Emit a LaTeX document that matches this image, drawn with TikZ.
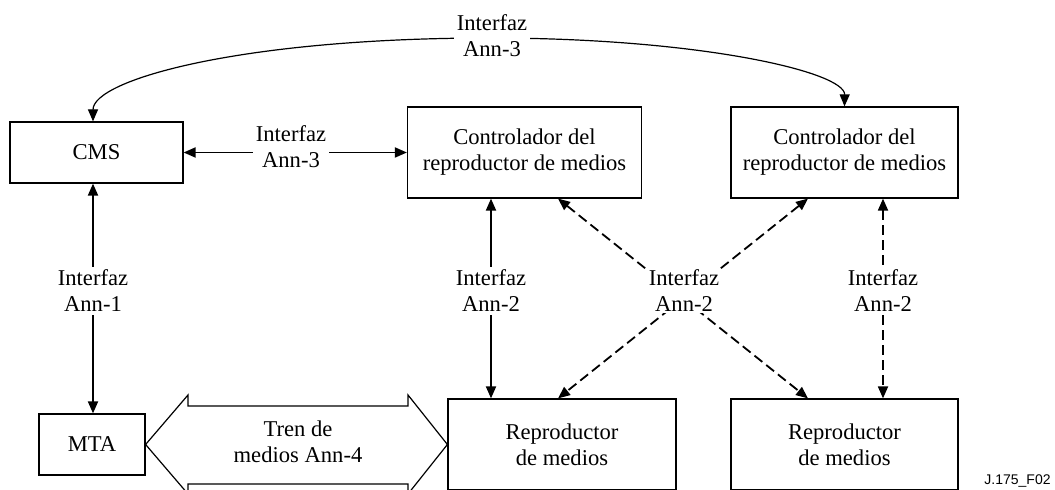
\documentclass[tikz,border=0pt]{standalone}
\usepackage{fontspec}
\setmainfont{Liberation Serif}
\newfontfamily\figsans{Liberation Sans}
\usetikzlibrary{arrows.meta}
\begin{document}
\begin{tikzpicture}[x=0.5pt,y=-0.5pt,
  txt/.style={font=\fontsize{11.3}{13}\selectfont},
  box/.style={draw,line width=0.6pt,align=center,inner sep=0pt,txt},
  lbl/.style={fill=white,align=center,inner sep=1.5pt,txt},
  tip/.style={Triangle[length=6pt,width=5pt]},
  conn/.style={line width=0.9pt,{Triangle[length=6pt,width=5pt]}-{Triangle[length=6pt,width=5pt]}},
  dconn/.style={conn,dash pattern=on 5pt off 2.5pt},
  curve/.style={line width=0.6pt,{Triangle[length=6pt,width=5pt]}-{Triangle[length=6pt,width=5pt]}},
  bigarrow/.style={draw,line width=0.6pt,fill=white},
]
\useasboundingbox (0,0) rectangle (1055,490);
\clip (0,0) rectangle (1055,490);

% boxes
\node[box,minimum width=86.5pt,minimum height=30.5pt] (cms) at (96.5,152.5) {CMS};
\node[box,minimum width=117pt,minimum height=45.5pt] (ctrl1) at (524.5,152.5) {Controlador del\\reproductor de medios};
\node[box,minimum width=113.5pt,minimum height=45.5pt] (ctrl2) at (844.5,152.5) {Controlador del\\reproductor de medios};
\node[box,minimum width=53pt,minimum height=30.5pt] (mta) at (92,444.5) {MTA};
\node[box,minimum width=114pt,minimum height=45.5pt] (repro1) at (562,444.5) {Reproductor\\de medios};
\node[box,minimum width=113.5pt,minimum height=45.5pt] (repro2) at (844.5,444.5) {Reproductor\\de medios};

% helper x-positions
\coordinate (v1) at (93,0);
\coordinate (v2) at (491,0);
\coordinate (v3) at (883,0);
\coordinate (d1) at (558,0);
\coordinate (d2) at (808,0);
\coordinate (apex) at (490,38);

% top curve
\draw[curve] (cms.north -| v1) .. controls (93,80) and (240,38) .. (apex)
  .. controls (700,38) and (845,72) .. (ctrl2.north);
\node[lbl] (l0) at (492,36) {Interfaz\\Ann-3};

% horizontal
\draw[conn] (cms.east) -- (ctrl1.west);
\node[lbl] (l1) at (291,147) {Interfaz\\Ann-3};

% verticals
\draw[conn] (cms.south -| v1) -- (mta.north -| v1);
\node[lbl] (l2) at (93,291) {Interfaz\\Ann-1};
\draw[conn] (ctrl1.south -| v2) -- (repro1.north -| v2);
\node[lbl] (l3) at (491,291) {Interfaz\\Ann-2};
\draw[dconn] (ctrl2.south -| v3) -- (repro2.north -| v3);
\node[lbl] (l4) at (883,291) {Interfaz\\Ann-2};

% diagonals
\draw[dconn] (ctrl1.south -| d1) -- (repro2.north -| d2);
\draw[dconn] (ctrl2.south -| d2) -- (repro1.north -| d1);
\node[lbl,inner sep=0.5pt] (l5) at (684,291) {Interfaz\\Ann-2};

% big double arrow
\draw[bigarrow] (mta.east) -- (188,395) -- (188,406) -- (408,406) -- (408,395)
  -- (repro1.west) -- (408,494) -- (408,484) -- (188,484) -- (188,494) -- cycle;
\node[txt,align=center] (train) at (298,442) {Tren de\\medios Ann-4};

% figure id
\node[anchor=east,inner sep=0pt,font=\figsans\fontsize{7}{8}\selectfont] (fid) at (1051,481) {J.175\_F02};
\end{tikzpicture}
\end{document}
